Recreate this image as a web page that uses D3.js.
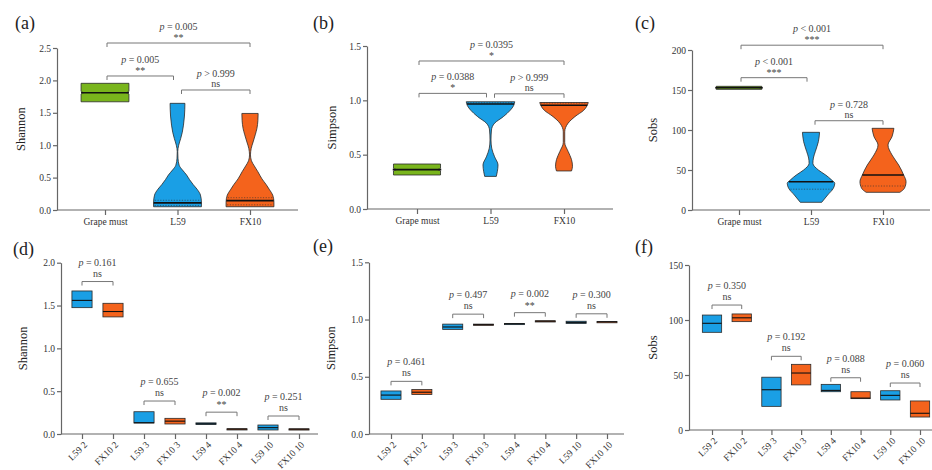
<!DOCTYPE html>
<html><head><meta charset="utf-8">
<script src="https://cdn.jsdelivr.net/npm/d3@7"></script>
<style>
html,body{margin:0;padding:0;background:#fff;}
svg{display:block;}
svg text{font-family:"Liberation Serif","DejaVu Serif",serif !important;}
</style></head><body>
<svg id="chart" width="932" height="470"></svg>
<script>
// ---------------- DATA ----------------
const topGroups = ["Grape must", "L59", "FX10"];
const bottomGroups = ["L59 2", "FX10 2", "L59 3", "FX10 3", "L59 4", "FX10 4", "L59 10", "FX10 10"];
const topColors = ["#79b51c", "#1a9fe5", "#f4631c"];
const bottomColors = ["#1a9fe5", "#f4631c"];

// violin outlines: [value, relative half-width]
const shannonGrape = [[1.67,1],[1.79,1],[1.81,0.9],[1.83,1],[1.955,1]];
const shannonL59 = [[0.05,1.0],[0.12,1.0],[0.23,0.96],[0.32,0.82],[0.39,0.66],[0.47,0.5],[0.54,0.38],[0.62,0.2],[0.69,0.07],[0.8,0.02],[0.9,0.01],[1.0,0.05],[1.1,0.13],[1.2,0.2],[1.31,0.25],[1.45,0.29],[1.646,0.31]];
const shannonFX10 = [[0.05,1.0],[0.12,1.0],[0.23,0.95],[0.31,0.82],[0.39,0.68],[0.48,0.5],[0.59,0.33],[0.68,0.18],[0.76,0.06],[0.85,0.02],[0.95,0.05],[1.05,0.13],[1.16,0.22],[1.26,0.29],[1.38,0.33],[1.49,0.34]];
const shannonMedians = [1.81, 0.11, 0.145];
const shannonQuartiles = [[], [0.07, 0.15], [0.08, 0.19]];
const shannonTicks = [0, 0.5, 1.0, 1.5, 2.0, 2.5];
const shannonTests = [[0,2,2.577,"= 0.005","**"],[0,1,2.068,"= 0.005","**"],[1,2,1.852,"> 0.999","ns"]];

const simpsonGrape = [[0.313,0.97],[0.35,0.97],[0.362,0.86],[0.374,0.97],[0.414,0.97]];
const simpsonL59 = [[0.30,0.24],[0.343,0.28],[0.405,0.31],[0.48,0.17],[0.56,0.05],[0.635,0.02],[0.727,0.04],[0.79,0.17],[0.85,0.53],[0.91,0.82],[0.95,0.95],[0.987,1.0]];
const simpsonFX10 = [[0.35,0.31],[0.393,0.35],[0.455,0.31],[0.53,0.17],[0.61,0.03],[0.71,0.03],[0.79,0.17],[0.85,0.45],[0.91,0.82],[0.95,0.95],[0.98,1.0]];
const simpsonMedians = [0.362, 0.966, 0.955];
const simpsonQuartiles = [[], [0.977], [0.975]];
const simpsonTicks = [0, 0.5, 1.0, 1.5];
const simpsonTests = [[0,2,1.362,"= 0.0395","*"],[0,1,1.064,"= 0.0388","*"],[1,2,1.06,"> 0.999","ns"]];

const sobsGrape = [[150.8,0.96],[152.3,0.96],[152.9,0.85],[153.5,0.96],[154.6,0.96]];
const sobsL59 = [[9.6,0.45],[18.75,0.7],[27.1,0.94],[33.3,1.0],[38,0.85],[43.7,0.62],[50,0.31],[58.3,0.08],[65,0.1],[72.9,0.18],[85.4,0.31],[97.1,0.36]];
const sobsFX10 = [[22.1,0.71],[27.1,0.9],[35.4,0.97],[43.75,0.87],[56.25,0.66],[68.75,0.38],[81.25,0.21],[91.7,0.38],[102.1,0.46]];
const sobsMedians = [152.9, 35.4, 43.7];
const sobsQuartiles = [[], [26], [30]];
const sobsTicks = [0, 50, 100, 150, 200];
const sobsTests = [[0,2,206,"< 0.001","***"],[0,1,165.4,"< 0.001","***"],[1,2,111.6,"= 0.728","ns"]];

// boxes: [low, middle, high]
const shannonBoxes = [[1.475,1.56,1.67],[1.367,1.43,1.526],[0.128,0.132,0.26],[0.117,0.15,0.183],[0.11,0.12,0.13],[0.055,0.058,0.061],[0.047,0.074,0.105],[0.054,0.057,0.06]];
const shannonBoxTicks = [0, 0.5, 1.0, 1.5, 2.0];
const shannonBoxTests = [[0,1,1.78,"= 0.161","ns"],[2,3,0.385,"= 0.655","ns"],[4,5,0.255,"= 0.002","**"],[6,7,0.21,"= 0.251","ns"]];

const simpsonBoxes = [[0.303,0.34,0.376],[0.345,0.365,0.388],[0.914,0.935,0.96],[0.95,0.955,0.96],[0.96,0.963,0.966],[0.983,0.986,0.989],[0.965,0.975,0.985],[0.978,0.98,0.982]];
const simpsonBoxTicks = [0, 0.5, 1.0, 1.5];
const simpsonBoxTests = [[0,1,0.46,"= 0.461","ns"],[2,3,1.047,"= 0.497","ns"],[4,5,1.06,"= 0.002","**"],[6,7,1.05,"= 0.300","ns"]];

const sobsBoxes = [[88.8,97,104.5],[98.5,102,105.5],[21.5,36.6,48],[41,51.8,59.7],[34.8,36,41.5],[28.5,29,34.8],[27.3,31.5,35.7],[11.8,15.2,26.4]];
const sobsBoxTicks = [0, 50, 100, 150];
const sobsBoxTests = [[0,1,113.6,"= 0.350","ns"],[2,3,67,"= 0.192","ns"],[4,5,47.5,"= 0.088","ns"],[6,7,42.7,"= 0.060","ns"]];

// ---------------- DRAWING ----------------
const FONT = "Liberation Serif, serif";
const svg = d3.select("#chart").attr("font-family", FONT);
const AXIS = "#666", TXT = "#333";

function setupPanel(o) {
  const g = svg.append("g");
  const x = d3.scalePoint().domain(o.groups).range([o.first, o.last]);
  const y = d3.scaleLinear().domain([0, o.ticks[o.ticks.length - 1]]).range([o.bottom, o.top]);
  const ya = g.append("g").attr("transform", `translate(${o.left},0)`)
    .call(d3.axisLeft(y).tickValues(o.ticks).tickFormat(d3.format(o.fmt)).tickSize(4).tickSizeOuter(0));
  ya.attr("font-family", FONT).attr("font-size", 9.5);
  ya.select(".domain").attr("stroke", AXIS).attr("stroke-width", 1.2);
  ya.selectAll(".tick line").attr("stroke", AXIS).attr("stroke-width", 1.2);
  ya.selectAll(".tick text").attr("fill", TXT).attr("x", -6);
  const xa = g.append("g").attr("transform", `translate(0,${o.bottom})`)
    .call(d3.axisBottom(x).tickSize(5).tickSizeOuter(0));
  xa.attr("font-family", FONT).attr("font-size", 9.5);
  xa.select(".domain").remove();
  xa.append("line").attr("x1", o.left).attr("x2", o.right).attr("y1", 0).attr("y2", 0)
    .attr("stroke", AXIS).attr("stroke-width", 1.2);
  xa.selectAll(".tick line").attr("stroke", AXIS).attr("stroke-width", 1.2);
  xa.selectAll(".tick text").attr("fill", TXT);
  if (o.rotate) {
    xa.selectAll(".tick text").attr("x", 0).attr("y", 0).attr("dy", "0.35em")
      .attr("text-anchor", "end").attr("transform", "translate(3,9) rotate(-45)");
  }
  g.append("text").attr("transform", `translate(${o.left - o.labelOff},${(o.top + o.bottom) / 2}) rotate(-90)`)
    .attr("text-anchor", "middle").attr("font-size", 12.5).attr("fill", "#222").text(o.label);
  g.append("text").attr("x", o.letterX).attr("y", o.letterY).attr("font-size", 18).attr("fill", "#222").text(o.letter);
  return {g, x, y};
}

function widthAt(profile, v) {
  for (let i = 0; i < profile.length - 1; i++) {
    const a = profile[i], b = profile[i + 1];
    if (v >= a[0] && v <= b[0]) return a[1] + (b[1] - a[1]) * (v - a[0]) / (b[0] - a[0]);
  }
  return v < profile[0][0] ? profile[0][1] : profile[profile.length - 1][1];
}

function drawTests(p, tests, o) {
  tests.forEach(t => {
    let x1 = p.x(o.groups[t[0]]), x2 = p.x(o.groups[t[1]]);
    if (o.inset) { x1 += (t[0] === 1 ? 4 : 2); x2 -= (t[1] === 1 ? 4 : 0); }
    const yb = p.y(t[2]);
    p.g.append("path").attr("d", `M${x1},${yb + 4}V${yb}H${x2}V${yb + 4}`)
      .attr("fill", "none").attr("stroke", "#777").attr("stroke-width", 1);
    const tx = p.g.append("text").attr("x", (x1 + x2) / 2).attr("y", yb - o.pGap)
      .attr("text-anchor", "middle").attr("font-size", 10).attr("fill", "#444");
    tx.append("tspan").attr("font-style", "italic").text("p");
    tx.append("tspan").text(" " + t[3]);
    const star = t[4].indexOf("*") >= 0;
    p.g.append("text").attr("x", (x1 + x2) / 2).attr("y", yb - (star ? o.starGap : o.nsGap))
      .attr("text-anchor", "middle").attr("font-size", 10).attr("fill", "#444").text(t[4]);
  });
}

function violinPanel(o, profiles, medians, quartiles, tests) {
  const p = setupPanel(o);
  const half = p.x.step() * 0.33;
  profiles.forEach((prof, i) => {
    const cx = p.x(o.groups[i]);
    const area = d3.area().curve(d3.curveMonotoneY)
      .y(d => p.y(d[0])).x0(d => cx - d[1] * half).x1(d => cx + d[1] * half);
    p.g.append("path").attr("d", area(prof)).attr("fill", topColors[i])
      .attr("stroke", "#2a2a2a").attr("stroke-width", 0.8);
    quartiles[i].forEach(q => {
      const w = widthAt(prof, q) * half;
      p.g.append("line").attr("x1", cx - w + 1).attr("x2", cx + w - 1).attr("y1", p.y(q)).attr("y2", p.y(q))
        .attr("stroke", "#333").attr("stroke-width", 0.6).attr("stroke-dasharray", "1.2,1.5");
    });
    const m = medians[i];
    const wm = (i === 0 ? 1 : widthAt(prof, m)) * half;
    p.g.append("line").attr("x1", cx - wm).attr("x2", cx + wm).attr("y1", p.y(m)).attr("y2", p.y(m))
      .attr("stroke", "#111").attr("stroke-width", 1.6);
  });
  drawTests(p, tests, o);
}

function boxPanel(o, boxes, tests) {
  const p = setupPanel(o);
  const bw = p.x.step() * 0.65;
  boxes.forEach((b, i) => {
    const cx = p.x(o.groups[i]);
    const h = Math.max(p.y(b[0]) - p.y(b[2]), 1.2);
    p.g.append("rect").attr("x", cx - bw / 2).attr("y", p.y(b[2])).attr("width", bw).attr("height", h)
      .attr("fill", bottomColors[i % 2]).attr("stroke", "#2a2a2a").attr("stroke-width", 0.8);
    p.g.append("line").attr("x1", cx - bw / 2).attr("x2", cx + bw / 2).attr("y1", p.y(b[1])).attr("y2", p.y(b[1]))
      .attr("stroke", "#111").attr("stroke-width", 1.1);
  });
  drawTests(p, tests, o);
}

const topBase = {groups: topGroups, rotate: false, inset: true, pGap: 13, starGap: 2, nsGap: 3, labelOff: 32};
const botBase = {groups: bottomGroups, rotate: true, inset: false, pGap: 16, starGap: 4, nsGap: 5, labelOff: 34};

violinPanel(Object.assign({}, topBase, {left: 57, right: 298, first: 105, last: 250, top: 48, bottom: 210,
  ticks: shannonTicks, fmt: ".1f", label: "Shannon", letter: "(a)", letterX: 15, letterY: 29}),
  [shannonGrape, shannonL59, shannonFX10], shannonMedians, shannonQuartiles, shannonTests);
violinPanel(Object.assign({}, topBase, {left: 367, right: 613, first: 417, last: 564, top: 46, bottom: 209,
  ticks: simpsonTicks, fmt: ".1f", label: "Simpson", letter: "(b)", letterX: 313, letterY: 29, labelOff: 31}),
  [simpsonGrape, simpsonL59, simpsonFX10], simpsonMedians, simpsonQuartiles, simpsonTests);
violinPanel(Object.assign({}, topBase, {left: 692, right: 930, first: 739, last: 883, top: 50, bottom: 210,
  ticks: sobsTicks, fmt: "d", label: "Sobs", letter: "(c)", letterX: 635, letterY: 29, labelOff: 35}),
  [sobsGrape, sobsL59, sobsFX10], sobsMedians, sobsQuartiles, sobsTests);

boxPanel(Object.assign({}, botBase, {left: 61, right: 318, first: 82, last: 299, top: 262.7, bottom: 434,
  ticks: shannonBoxTicks, fmt: ".1f", label: "Shannon", letter: "(d)", letterX: 13, letterY: 255}),
  shannonBoxes, shannonBoxTests);
boxPanel(Object.assign({}, botBase, {left: 369, right: 624, first: 391, last: 607, top: 262.3, bottom: 434,
  ticks: simpsonBoxTicks, fmt: ".1f", label: "Simpson", letter: "(e)", letterX: 313, letterY: 252}),
  simpsonBoxes, simpsonBoxTests);
boxPanel(Object.assign({}, botBase, {left: 689, right: 932, first: 712, last: 920, top: 265, bottom: 430,
  ticks: sobsBoxTicks, fmt: "d", label: "Sobs", letter: "(f)", letterX: 635, letterY: 253, labelOff: 32}),
  sobsBoxes, sobsBoxTests);
</script></body></html>
